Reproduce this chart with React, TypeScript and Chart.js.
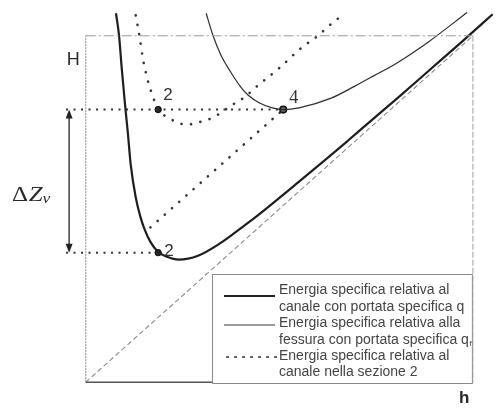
import { useEffect, useRef } from "react";
import { Chart, registerables } from "chart.js";

Chart.register(...registerables);

// ---- data (h = depth, E = specific energy H) ----
const thickH = [0.78, 0.86, 0.93, 1.01, 1.09, 1.16, 1.29, 1.41, 1.52, 1.67, 1.87, 2.10, 2.40, 2.90, 3.43, 3.81, 4.24, 4.67, 5.51, 6.34, 6.77, 7.35, 8.03, 8.86, 9.72, 10.51];
const thickE = [10.65, 10.0, 9.05, 8.06, 7.16, 6.29, 5.34, 4.78, 4.41, 4.05, 3.76, 3.62, 3.54, 3.65, 3.98, 4.28, 4.64, 5.02, 5.79, 6.56, 6.97, 7.53, 8.18, 8.99, 9.83, 10.62];

const thinH = [3.11, 3.28, 3.48, 3.74, 3.99, 4.19, 4.49, 4.82, 5.10, 5.51, 6.34, 6.94, 7.45, 8.03, 8.86, 9.85];
const thinE = [10.65, 10.03, 9.47, 8.96, 8.54, 8.29, 8.06, 7.92, 7.87, 7.92, 8.20, 8.54, 8.85, 9.21, 9.83, 10.67];

const sec2H = [1.29, 1.39, 1.47, 1.57, 1.72, 1.87, 2.22, 2.42, 2.65, 2.90, 3.16, 3.41, 3.61, 3.86, 4.07, 4.42, 5.0, 5.58, 5.96, 6.39, 6.59];
const sec2E = [10.59, 9.97, 9.38, 8.85, 8.29, 7.89, 7.58, 7.47, 7.44, 7.50, 7.58, 7.72, 7.87, 8.06, 8.20, 8.54, 9.07, 9.66, 9.97, 10.39, 10.56];

const linkH = [1.67, 5.10];
const linkE = [4.47, 7.87];

const diagH = [0, 10];
const diagE = [0, 10];

const boxMax = 10;
const levelUpper = 7.87;
const levelLower = 3.74;
const point2h = 1.87;
const point4h = 5.10;
const guideStart = -0.51;
const arrowAt = -0.43;

const legendLabels = [
  "Energia specifica relativa al",
  "canale con portata specifica q",
  "Energia specifica relativa alla",
  "fessura con portata specifica q",
  "Energia specifica relativa al",
  "canale nella sezione 2",
];

const X_MIN = -2.071;
const X_MAX = 10.53;
const Y_MIN = -0.843;
const Y_MAX = 10.871;

const pts = (xs: number[], ys: number[]) => xs.map((x, i) => ({ x, y: ys[i] }));

const overlay = {
  id: "overlay",
  beforeDraw(chart: any) {
    const ctx = chart.ctx;
    ctx.save();
    ctx.fillStyle = "#fff";
    ctx.fillRect(0, 0, chart.width, chart.height);
    ctx.restore();
  },
  afterDatasetsDraw(chart: any) {
    const ctx = chart.ctx as CanvasRenderingContext2D;
    const xs = chart.scales.x;
    const ys = chart.scales.y;
    const px = (v: number) => xs.getPixelForValue(v);
    const py = (v: number) => ys.getPixelForValue(v);
    ctx.save();

    // double arrow ΔZv
    const ax = px(arrowAt);
    const a1 = py(levelUpper);
    const a2 = py(levelLower);
    ctx.strokeStyle = "#333";
    ctx.lineWidth = 1.4;
    ctx.setLineDash([]);
    ctx.beginPath();
    ctx.moveTo(ax, a1 + 6);
    ctx.lineTo(ax, a2 - 6);
    ctx.stroke();
    ctx.fillStyle = "#222";
    ctx.beginPath();
    ctx.moveTo(ax, a1);
    ctx.lineTo(ax - 3.5, a1 + 9);
    ctx.lineTo(ax + 3.5, a1 + 9);
    ctx.closePath();
    ctx.fill();
    ctx.beginPath();
    ctx.moveTo(ax, a2);
    ctx.lineTo(ax - 3.5, a2 - 9);
    ctx.lineTo(ax + 3.5, a2 - 9);
    ctx.closePath();
    ctx.fill();

    // point labels
    ctx.fillStyle = "#333";
    ctx.textBaseline = "alphabetic";
    ctx.font = "17px 'Liberation Sans', Arial, sans-serif";
    ctx.fillText("2", px(point2h) + 5, py(levelUpper) - 10);
    ctx.fillText("2", px(point2h) + 6, py(levelLower) + 3);
    ctx.font = "18px 'Liberation Serif', 'Times New Roman', serif";
    ctx.fillText("4", px(point4h) + 6, py(levelUpper) - 7);

    // axis labels
    ctx.fillStyle = "#2a2a2a";
    ctx.font = "18px 'Liberation Sans', Arial, sans-serif";
    ctx.fillText("H", px(0) - 19, py(boxMax) + 29);
    ctx.font = "bold 17px 'Liberation Sans', Arial, sans-serif";
    ctx.fillText("h", px(boxMax) - 14, py(0) + 21);

    // ΔZv
    ctx.save();
    ctx.translate(12, 201);
    ctx.scale(1.25, 1);
    ctx.font = "20px 'Liberation Serif', 'Times New Roman', serif";
    let tx = 0;
    ctx.fillText("Δ", tx, 0);
    tx += ctx.measureText("Δ").width + 0.5;
    ctx.font = "italic 20px 'Liberation Serif', 'Times New Roman', serif";
    ctx.fillText("Z", tx, 0);
    tx += ctx.measureText("Z").width;
    ctx.font = "italic 14px 'Liberation Serif', 'Times New Roman', serif";
    ctx.fillText("v", tx, 2);
    ctx.restore();

    // legend box
    const bl = 212, bt = 274, br = px(boxMax), bb = 383;
    ctx.fillStyle = "#fff";
    ctx.fillRect(bl, bt, br - bl, bb - bt);
    ctx.strokeStyle = "#8a8a8a";
    ctx.lineWidth = 1;
    ctx.strokeRect(bl + 0.5, bt + 0.5, br - bl - 1, bb - bt);

    // samples
    ctx.strokeStyle = "#222";
    ctx.lineWidth = 2.2;
    ctx.beginPath();
    ctx.moveTo(224, 296);
    ctx.lineTo(275, 296);
    ctx.stroke();
    ctx.lineWidth = 1.2;
    ctx.strokeStyle = "#333";
    ctx.beginPath();
    ctx.moveTo(224, 325);
    ctx.lineTo(275, 325);
    ctx.stroke();
    ctx.setLineDash([3, 5]);
    ctx.lineWidth = 1.6;
    ctx.beginPath();
    ctx.moveTo(226, 357);
    ctx.lineTo(281, 357);
    ctx.stroke();
    ctx.setLineDash([]);

    // legend text
    ctx.fillStyle = "#444";
    const lf = "14px 'Liberation Sans', Arial, sans-serif";
    const baselines = [294, 310.5, 327, 343.5, 360, 376];
    legendLabels.forEach((t, i) => {
      ctx.font = lf;
      ctx.fillText(t, 279, baselines[i]);
      if (i === 3) {
        const w = ctx.measureText(t).width;
        ctx.font = "8px 'Liberation Sans', Arial, sans-serif";
        ctx.fillText("f", 279 + w + 0.5, baselines[i] + 2);
      }
    });

    ctx.restore();
  },
};

export default function App() {
  const ref = useRef<HTMLCanvasElement | null>(null);

  useEffect(() => {
    if (!ref.current) return;
    const dotted = (extra: any) => ({
      borderColor: "#333",
      borderWidth: 2.6,
      borderDash: [0.1, 9.5],
      borderCapStyle: "round",
      ...extra,
    });
    const base = { showLine: true, pointRadius: 0, fill: false, clip: false as any };
    const chart = new Chart(ref.current, {
      type: "scatter",
      data: {
        datasets: [
          // frame / axes
          { ...base, data: pts([0, boxMax], [0, 0]), borderColor: "#555", borderWidth: 1.5 },
          { ...base, data: pts([0, 0], [0, boxMax]), borderColor: "#8a8a8a", borderWidth: 1, borderDash: [2, 1] },
          { ...base, data: pts([0, boxMax], [boxMax, boxMax]), borderColor: "#9a9a9a", borderWidth: 1, borderDash: [10, 3, 2, 3] },
          { ...base, data: pts([boxMax, boxMax], [boxMax, 0]), borderColor: "#a0a0a0", borderWidth: 1, borderDash: [6, 2] },
          // H = h
          { ...base, data: pts(diagH, diagE), borderColor: "#8c8c8c", borderWidth: 1.1, borderDash: [5, 3] },
          // curves
          { ...base, data: pts(thickH, thickE), borderColor: "#1e1e1e", borderWidth: 2.2, cubicInterpolationMode: "monotone" },
          { ...base, data: pts(thinH, thinE), borderColor: "#2e2e2e", borderWidth: 1.2, cubicInterpolationMode: "monotone" },
          { ...base, ...dotted({}), data: pts(sec2H, sec2E), cubicInterpolationMode: "monotone" },
          { ...base, ...dotted({}), data: pts(linkH, linkE) },
          // guides
          { ...base, data: pts([guideStart, point4h], [levelUpper, levelUpper]), borderColor: "#333", borderWidth: 2, borderDash: [2, 5.5] },
          { ...base, data: pts([guideStart, point2h], [levelLower, levelLower]), borderColor: "#333", borderWidth: 2, borderDash: [2, 5.5] },
          // markers
          {
            data: pts([point2h, point2h], [levelUpper, levelLower]),
            pointRadius: 3.2,
            pointBackgroundColor: "#222",
            pointBorderColor: "#111",
            pointBorderWidth: 1,
            showLine: false,
            clip: false as any,
          },
          {
            data: pts([point4h], [levelUpper]),
            pointRadius: 3.3,
            pointBackgroundColor: "#666",
            pointBorderColor: "#111",
            pointBorderWidth: 1.6,
            showLine: false,
            clip: false as any,
          },
        ] as any,
      },
      options: {
        animation: false,
        responsive: false,
        maintainAspectRatio: false,
        devicePixelRatio: 1,
        events: [],
        layout: { padding: 0 },
        plugins: { legend: { display: false }, tooltip: { enabled: false } },
        scales: {
          x: { type: "linear", display: false, min: X_MIN, max: X_MAX },
          y: { type: "linear", display: false, min: Y_MIN, max: Y_MAX },
        },
      },
      plugins: [overlay],
    });
    return () => chart.destroy();
  }, []);

  return (
    <div style={{ position: "fixed", left: 0, top: 0, width: 499, height: 417, background: "#fff" }}>
      <canvas ref={ref} width={499} height={417} style={{ display: "block", width: 499, height: 417 }} />
    </div>
  );
}
